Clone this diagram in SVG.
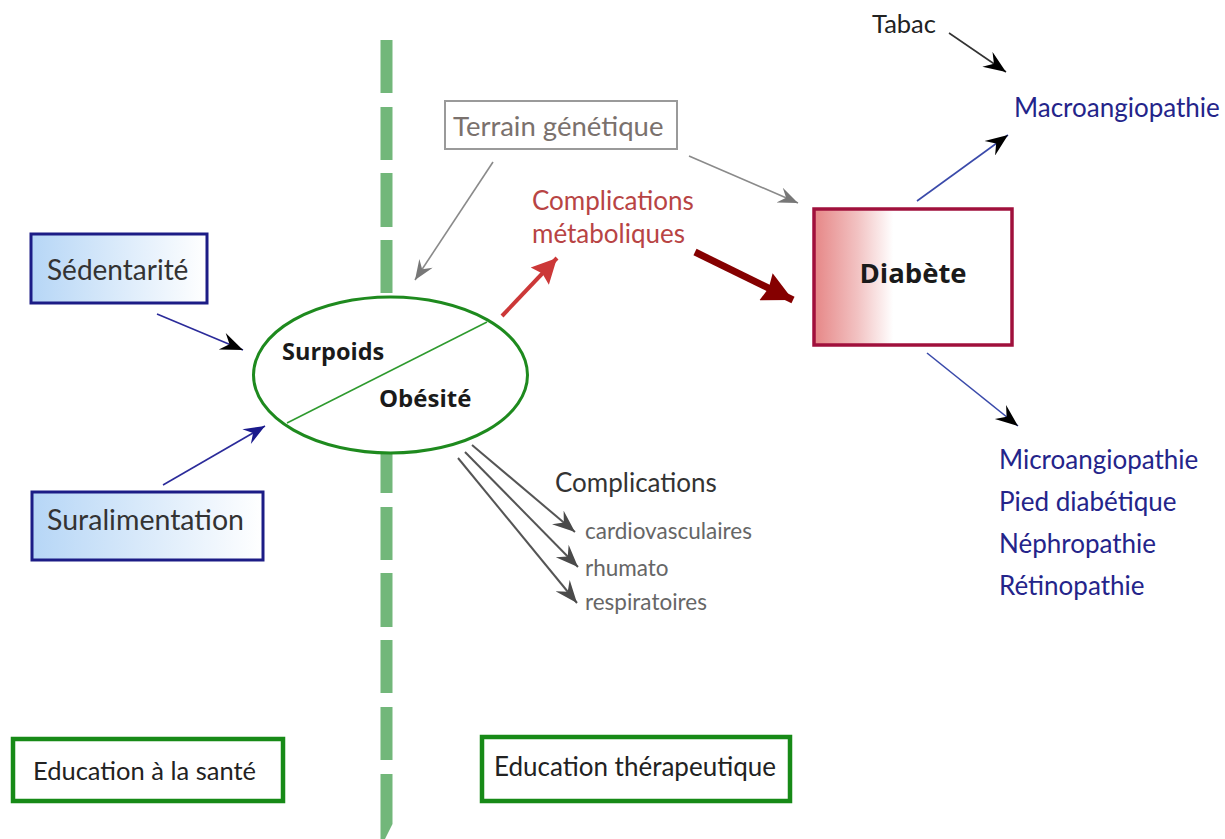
<svg xmlns="http://www.w3.org/2000/svg" width="1225" height="839" viewBox="0 0 1225 839">
<style>
.t{font-family:Lato,"Liberation Sans",sans-serif;}
.b{font-family:"Open Sans","Liberation Sans",sans-serif;font-weight:bold;fill:#1a1a1a;}
.dash{fill:#72b77a;}
.ln{fill:none;}
</style>
<defs>
<linearGradient id="gBlue" x1="0" y1="0" x2="1" y2="0">
<stop offset="0" stop-color="#b6d6f6"/>
<stop offset="1" stop-color="#ffffff"/>
</linearGradient>
<linearGradient id="gRed" x1="0" y1="0" x2="1" y2="0">
<stop offset="0" stop-color="#e68686"/>
<stop offset="0.22" stop-color="#f2c2c2"/>
<stop offset="0.4" stop-color="#ffffff"/>
</linearGradient>
<marker id="aBlack" viewBox="0 0 20 16" refX="20" refY="8" markerWidth="24" markerHeight="18" orient="auto" markerUnits="userSpaceOnUse">
<path d="M0,0 L20,8 L0,16 L7,8 z" fill="#000"/>
</marker>
<marker id="aNavy" viewBox="0 0 20 16" refX="20" refY="8" markerWidth="23" markerHeight="17" orient="auto" markerUnits="userSpaceOnUse">
<path d="M0,0 L20,8 L0,16 L7,8 z" fill="#1a1a8c"/>
</marker>
<marker id="aGray" viewBox="0 0 20 16" refX="20" refY="8" markerWidth="22" markerHeight="16" orient="auto" markerUnits="userSpaceOnUse">
<path d="M0,0 L20,8 L0,16 L7,8 z" fill="#777"/>
</marker>
<marker id="aDark" viewBox="0 0 20 16" refX="20" refY="8" markerWidth="24" markerHeight="18" orient="auto" markerUnits="userSpaceOnUse">
<path d="M0,0 L20,8 L0,16 L7,8 z" fill="#4a4a4a"/>
</marker>
<marker id="aRed" viewBox="0 0 20 20" refX="20" refY="10" markerWidth="27" markerHeight="25" orient="auto" markerUnits="userSpaceOnUse">
<path d="M0,0 L20,10 L0,20 L3,10 z" fill="#cc3838"/>
</marker>
<marker id="aMaroon" viewBox="0 0 20 20" refX="20" refY="10" markerWidth="33" markerHeight="30" orient="auto" markerUnits="userSpaceOnUse">
<path d="M0,0 L20,10 L0,20 L2,10 z" fill="#850000"/>
</marker>
</defs>

<g id="separator">
<rect class="dash" x="380.5" y="40" width="12" height="53"/>
<rect class="dash" x="380.5" y="107" width="12" height="53"/>
<rect class="dash" x="380.5" y="173" width="12" height="54"/>
<rect class="dash" x="380.5" y="240" width="12" height="53"/>
<rect class="dash" x="380.5" y="440" width="12" height="53"/>
<rect class="dash" x="380.5" y="507" width="12" height="53"/>
<rect class="dash" x="380.5" y="573" width="12" height="54"/>
<rect class="dash" x="380.5" y="640" width="12" height="53"/>
<rect class="dash" x="380.5" y="707" width="12" height="53"/>
<polygon class="dash" points="380.5,774 392.5,774 392.5,824 385,839 380.5,839"/>
</g>

<g id="connectors">
<line class="ln" x1="157" y1="314" x2="243" y2="350" stroke="#2b2b9a" stroke-width="1.6" marker-end="url(#aBlack)"/>
<line class="ln" x1="163" y1="485" x2="265" y2="426" stroke="#2b2b9a" stroke-width="1.6" marker-end="url(#aNavy)"/>
<line class="ln" x1="493" y1="162" x2="415" y2="280" stroke="#8a8a8a" stroke-width="1.6" marker-end="url(#aGray)"/>
<line class="ln" x1="689" y1="156" x2="798" y2="203" stroke="#8a8a8a" stroke-width="1.6" marker-end="url(#aGray)"/>
<line class="ln" x1="502" y1="316" x2="557" y2="258" stroke="#cc3838" stroke-width="4" marker-end="url(#aRed)"/>
<line class="ln" x1="695" y1="252" x2="793" y2="300" stroke="#850000" stroke-width="7" marker-end="url(#aMaroon)"/>
<line class="ln" x1="917" y1="201" x2="1008" y2="135" stroke="#3a4aaa" stroke-width="1.6" marker-end="url(#aBlack)"/>
<line class="ln" x1="949" y1="33" x2="1006" y2="72" stroke="#333" stroke-width="1.6" marker-end="url(#aBlack)"/>
<line class="ln" x1="927" y1="353" x2="1018" y2="426" stroke="#3a4aaa" stroke-width="1.6" marker-end="url(#aBlack)"/>
<line class="ln" x1="472" y1="445" x2="575" y2="532" stroke="#555" stroke-width="2" marker-end="url(#aDark)"/>
<line class="ln" x1="465" y1="452" x2="578" y2="567" stroke="#555" stroke-width="2" marker-end="url(#aDark)"/>
<line class="ln" x1="458" y1="458" x2="577" y2="603" stroke="#555" stroke-width="2" marker-end="url(#aDark)"/>
</g>

<g id="sedentarite">
<rect x="31" y="234" width="176" height="69" fill="url(#gBlue)" stroke="#1c1c86" stroke-width="3"/>
<text class="t" x="47" y="280" font-size="28" fill="#333">Sédentarité</text>
</g>

<g id="suralimentation">
<rect x="32" y="492" width="231" height="68" fill="url(#gBlue)" stroke="#1c1c86" stroke-width="3"/>
<text class="t" x="47" y="530" font-size="28.5" fill="#333">Suralimentation</text>
</g>

<g id="obesite">
<ellipse cx="390.5" cy="375" rx="137" ry="78" fill="#fff" stroke="#1e8a1e" stroke-width="3"/>
<line x1="287" y1="423" x2="487" y2="322" stroke="#2e9a2e" stroke-width="1.5"/>
<text class="b" x="282" y="360" font-size="23.5">Surpoids</text>
<text class="b" x="379" y="407" font-size="24">Obésité</text>
</g>

<g id="terrain">
<rect x="445" y="101" width="232" height="48" fill="#fff" stroke="#9a9a9a" stroke-width="2"/>
<text class="t" x="453" y="136" font-size="27.5" fill="#7a716d">Terrain génétique</text>
</g>

<g id="complications-metaboliques">
<text class="t" x="532" y="210" font-size="26" fill="#b84444">Complications</text>
<text class="t" x="532" y="243" font-size="26" fill="#b84444">métaboliques</text>
</g>

<g id="diabete">
<rect x="814" y="209" width="198" height="136" fill="url(#gRed)" stroke="#a0103c" stroke-width="3.5"/>
<text class="b" x="913" y="283" font-size="27.5" text-anchor="middle">Diabète</text>
</g>

<g id="tabac">
<text class="t" x="872" y="33" font-size="25.5" fill="#222">Tabac</text>
</g>

<g id="macro">
<text class="t" x="1014" y="117" font-size="26" fill="#24248a">Macroangiopathie</text>
</g>

<g id="micro">
<text class="t" x="999" y="469" font-size="26" fill="#24248a">Microangiopathie</text>
<text class="t" x="999" y="511" font-size="26" fill="#24248a">Pied diabétique</text>
<text class="t" x="999" y="553" font-size="26" fill="#24248a">Néphropathie</text>
<text class="t" x="999" y="595" font-size="26" fill="#24248a">Rétinopathie</text>
</g>

<g id="complications">
<text class="t" x="555" y="492" font-size="26" fill="#333">Complications</text>
<text class="t" x="585" y="539" font-size="22.5" fill="#666">cardiovasculaires</text>
<text class="t" x="585" y="576" font-size="22.5" fill="#666">rhumato</text>
<text class="t" x="585" y="610" font-size="22.5" fill="#666">respiratoires</text>
</g>

<g id="education-sante">
<rect x="13" y="739" width="270" height="62" fill="#fff" stroke="#178a17" stroke-width="4.5"/>
<text class="t" x="33" y="780" font-size="25.5" fill="#222">Education à la santé</text>
</g>

<g id="education-therapeutique">
<rect x="482" y="737" width="308" height="64" fill="#fff" stroke="#178a17" stroke-width="4.5"/>
<text class="t" x="494" y="776" font-size="26" fill="#222">Education thérapeutique</text>
</g>
</svg>
